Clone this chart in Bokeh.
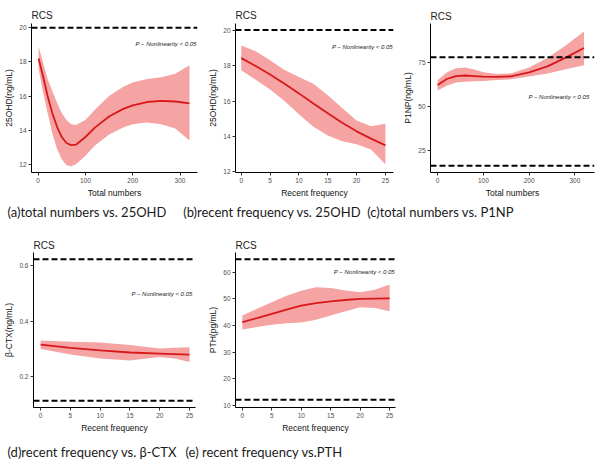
from bokeh.plotting import figure
from bokeh.layouts import column, row
from bokeh.models import Range1d, Span, FixedTicker
from bokeh.core.properties import value
from bokeh.embed import file_html
from bokeh.resources import INLINE

# ---------------- data ----------------
# (a) total numbers vs 25OHD
a_x = [1, 10, 20, 30, 40, 50, 60, 70, 80, 100, 120, 150, 180, 200, 230, 260, 290, 320]
a_mid = [18.2, 17.2, 16.0, 15.0, 14.2, 13.6, 13.25, 13.12, 13.15, 13.6, 14.15, 14.8, 15.25, 15.45, 15.65, 15.72, 15.68, 15.57]
a_up = [18.9, 18.0, 17.0, 16.3, 15.6, 15.0, 14.6, 14.35, 14.3, 14.6, 15.2, 16.0, 16.55, 16.8, 17.0, 17.1, 17.3, 17.8]
a_lo = [17.6, 16.3, 15.0, 13.8, 12.9, 12.3, 11.95, 11.88, 12.0, 12.5, 13.1, 13.75, 14.15, 14.35, 14.45, 14.35, 14.1, 13.4]
a_ref = [20]

# (b) recent frequency vs 25OHD
b_x = [0, 2.5, 5, 7.5, 10, 12.5, 15, 17.5, 20, 22.5, 25]
b_mid = [18.42, 17.97, 17.5, 16.97, 16.43, 15.86, 15.31, 14.78, 14.29, 13.88, 13.5]
b_up = [19.13, 18.8, 18.3, 17.75, 17.35, 16.97, 16.32, 15.6, 14.9, 14.58, 14.72]
b_lo = [17.73, 17.2, 16.65, 16.0, 15.25, 14.55, 14.05, 13.73, 13.56, 13.27, 12.43]
b_ref = [20]

# (c) total numbers vs P1NP
c_x = [0, 20, 40, 60, 80, 100, 130, 160, 200, 240, 280, 320]
c_mid = [62.4, 65.8, 67.5, 67.8, 67.5, 67.2, 67.0, 67.3, 69.6, 73.0, 78.0, 83.5]
c_up = [65.1, 69.5, 71.9, 72.3, 71.2, 69.6, 68.6, 69.0, 72.3, 77.8, 85.0, 93.0]
c_lo = [59.3, 62.0, 63.8, 64.3, 64.5, 64.7, 65.2, 65.6, 67.2, 69.0, 71.3, 73.6]
c_ref = [78.2, 16.3]

# (d) recent frequency vs beta-CTX
d_x = [0, 5, 10, 15, 20, 22.5, 25]
d_mid = [0.316, 0.305, 0.296, 0.288, 0.284, 0.282, 0.280]
d_up = [0.331, 0.327, 0.324, 0.315, 0.302, 0.305, 0.307]
d_lo = [0.301, 0.281, 0.266, 0.259, 0.272, 0.266, 0.254]
d_ref = [0.624, 0.114]

# (e) recent frequency vs PTH
e_x = [0, 2.5, 5, 7.5, 10, 12.5, 15, 17.5, 20, 22.5, 25]
e_mid = [41.25, 42.8, 44.4, 46.0, 47.5, 48.4, 49.1, 49.6, 50.0, 50.15, 50.25]
e_up = [43.75, 46.3, 48.75, 51.2, 53.1, 54.4, 54.1, 53.2, 52.5, 53.5, 55.4]
e_lo = [38.5, 39.4, 40.25, 40.8, 41.1, 42.2, 43.75, 45.4, 46.9, 46.6, 45.4]
e_ref = [65, 12]

captions_row1 = ["(a)total numbers vs. 25OHD", "(b)recent frequency vs. 25OHD", "(c)total numbers vs. P1NP"]
captions_row2 = ["(d)recent frequency vs. \u03b2-CTX", "(e) recent frequency vs.PTH"]
p_text = "P \u2212 Nonlinearity < 0.05"

FONT = "Liberation Sans"


def panel(xs, mid, up, lo, refs, xr, yr, xt, yt, xlabel, ylabel, ptxt_xy,
          width, height, bl, br, bt, bb, title_gap):
    p = figure(width=width, height=height, output_backend="svg", toolbar_location=None,
               x_range=Range1d(*xr), y_range=Range1d(*yr),
               min_border_left=bl, min_border_right=br, min_border_top=bt, min_border_bottom=bb,
               title="RCS")
    p.title.text_font = FONT
    p.title.text_font_size = "10px"
    p.title.text_font_style = "normal"
    p.title.text_color = "#222222"
    p.title.standoff = title_gap
    p.grid.visible = False
    p.outline_line_color = None
    p.background_fill_color = "white"
    p.border_fill_color = "white"

    p.varea(x=xs, y1=lo, y2=up, fill_color="#f5a3a3", fill_alpha=1.0)
    p.line(x=xs, y=mid, line_color="#d7191c", line_width=1.8)
    for r in refs:
        p.add_layout(Span(location=r, dimension="width", line_color="black",
                          line_width=2, line_dash="6 3"))
    p.text(x=[ptxt_xy[0]], y=[ptxt_xy[1]], text=[p_text], text_align="right",
           text_baseline="middle", text_font=value(FONT), text_font_size="6px",
           text_font_style="italic", text_color="#222222")

    p.xaxis.ticker = FixedTicker(ticks=xt)
    p.yaxis.ticker = FixedTicker(ticks=yt)
    p.xaxis.axis_label = xlabel
    p.yaxis.axis_label = ylabel
    for ax in (p.xaxis[0], p.yaxis[0]):
        ax.axis_line_color = "black"
        ax.axis_line_width = 1
        ax.major_tick_line_color = "#333333"
        ax.major_tick_out = 3
        ax.major_tick_in = 0
        ax.minor_tick_line_color = None
        ax.major_label_text_font = FONT
        ax.major_label_text_font_size = "6.5px"
        ax.major_label_text_color = "#4d4d4d"
        ax.major_label_standoff = 2
        ax.axis_label_text_font = FONT
        ax.axis_label_text_font_size = "8.5px"
        ax.axis_label_text_font_style = "normal"
        ax.axis_label_text_color = "#111111"
        ax.axis_label_standoff = 2
    return p


fa = panel(a_x, a_mid, a_up, a_lo, a_ref, (-14, 337), (11.52, 20.25), [0, 100, 200, 300],
           [12, 14, 16, 18, 20], "Total numbers", "25OHD(ng/mL)", (335, 19.03),
           205, 200, 31, 8, 23, 26, 6)
fb = panel(b_x, b_mid, b_up, b_lo, b_ref, (-1.0, 26.4), (11.97, 20.37), [0, 5, 10, 15, 20, 25],
           [12, 14, 16, 18, 20], "Recent frequency", "25OHD(ng/mL)", (26.3, 19.03),
           195, 200, 25, 7, 23, 27, 6)
fc = panel(c_x, c_mid, c_up, c_lo, c_ref, (-15.6, 343), (12.4, 97.5), [0, 100, 200, 300],
           [25, 50, 75], "Total numbers", "P1NP(ng/mL)", (332, 55.5),
           200, 200, 24, 6, 17, 26, 4)
fd = panel(d_x, d_mid, d_up, d_lo, d_ref, (-1.2, 26.0), (0.09, 0.648), [0, 5, 10, 15, 20, 25],
           [0.2, 0.4, 0.6], "Recent frequency", "\u03b2-CTX(ng/mL)", (25.5, 0.5),
           205, 218, 33, 10, 30, 33, 3)
fe = panel(e_x, e_mid, e_up, e_lo, e_ref, (-1.16, 26.0), (9.1, 67.5), [0, 5, 10, 15, 20, 25],
           [10, 20, 30, 40, 50, 60], "Recent frequency", "PTH(pg/mL)", (25.9, 60),
           200, 218, 26, 10, 30, 33, 3)


def caption_strip(texts, xpos, height, center_from_top):
    s = figure(width=600, height=height, output_backend="svg", toolbar_location=None,
               x_range=Range1d(0, 600), y_range=Range1d(0, height),
               min_border=0, min_border_left=0, min_border_right=0,
               min_border_top=0, min_border_bottom=0)
    s.axis.visible = False
    s.grid.visible = False
    s.outline_line_color = None
    s.text(x=xpos, y=[height - center_from_top] * len(texts), text=texts, text_align="left",
           text_baseline="middle", text_font=value("Lato"), text_font_size="13px",
           text_color="#1a1a1a")
    return s


cap1 = caption_strip(captions_row1, [7, 182.7, 366.7], 22, 11)
cap2 = caption_strip(captions_row2, [7, 185], 25, 11)

layout = column(row(fa, fb, fc), cap1, row(fd, fe), cap2)

open("out.html", "w").write(file_html(layout, INLINE))
